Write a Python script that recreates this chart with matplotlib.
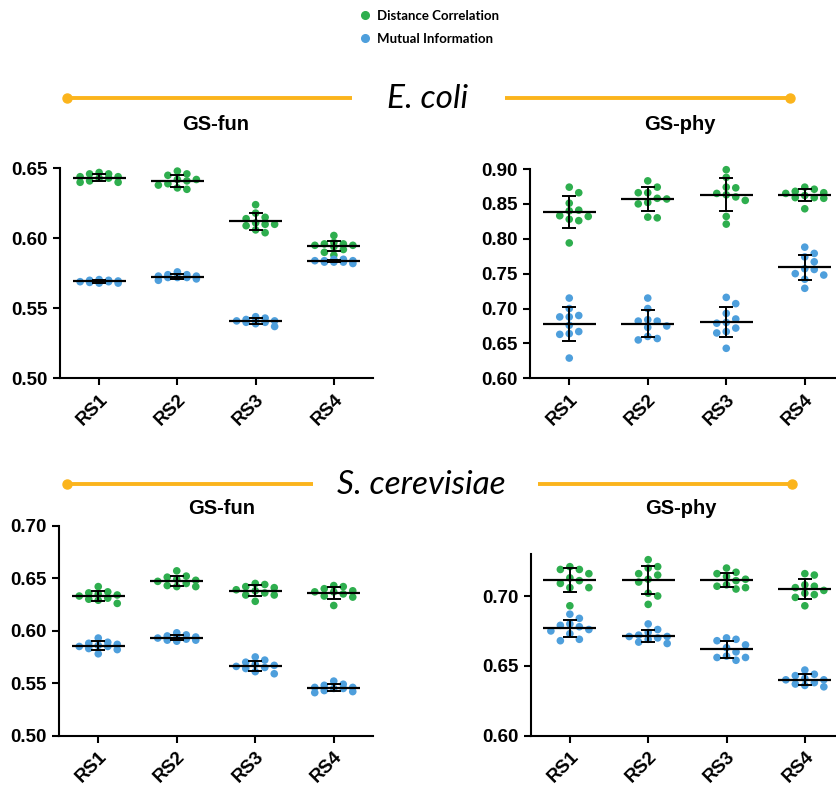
import numpy as np
import matplotlib
matplotlib.use("Agg")
import matplotlib.pyplot as plt

#====== DATA ======
categories = ["RS1", "RS2", "RS3", "RS4"]
series_names = ["Distance Correlation", "Mutual Information"]
species_names = ["E. coli", "S. cerevisiae"]
panel_titles = ["GS-fun", "GS-phy"]

# E. coli, GS-fun
ecoli_fun_dc = [
    [0.647, 0.646, 0.646, 0.644, 0.643, 0.643, 0.641, 0.640, 0.640, 0.644],
    [0.648, 0.646, 0.645, 0.642, 0.642, 0.641, 0.639, 0.638, 0.636, 0.635],
    [0.624, 0.618, 0.615, 0.614, 0.611, 0.610, 0.610, 0.609, 0.606, 0.604],
    [0.602, 0.597, 0.596, 0.596, 0.595, 0.595, 0.594, 0.592, 0.590, 0.588],
]
ecoli_fun_mi = [
    [0.570, 0.5705, 0.569, 0.569, 0.568, 0.5685, 0.570, 0.569, 0.568, 0.5695],
    [0.576, 0.574, 0.574, 0.573, 0.573, 0.572, 0.572, 0.572, 0.571, 0.570],
    [0.544, 0.543, 0.542, 0.541, 0.541, 0.541, 0.540, 0.540, 0.539, 0.537],
    [0.585, 0.585, 0.584, 0.584, 0.584, 0.584, 0.583, 0.583, 0.583, 0.582],
]
# E. coli, GS-phy
ecoli_phy_dc = [
    [0.874, 0.866, 0.851, 0.841, 0.840, 0.833, 0.832, 0.828, 0.826, 0.794],
    [0.883, 0.874, 0.866, 0.866, 0.858, 0.857, 0.852, 0.850, 0.831, 0.830],
    [0.899, 0.888, 0.874, 0.873, 0.865, 0.863, 0.860, 0.855, 0.832, 0.821],
    [0.874, 0.871, 0.868, 0.866, 0.865, 0.862, 0.859, 0.859, 0.858, 0.843],
]
ecoli_phy_mi = [
    [0.715, 0.700, 0.690, 0.688, 0.688, 0.676, 0.667, 0.664, 0.663, 0.629],
    [0.715, 0.700, 0.684, 0.682, 0.682, 0.675, 0.673, 0.660, 0.657, 0.655],
    [0.716, 0.707, 0.693, 0.685, 0.680, 0.679, 0.672, 0.667, 0.665, 0.643],
    [0.788, 0.779, 0.774, 0.767, 0.757, 0.756, 0.750, 0.748, 0.742, 0.729],
]
# S. cerevisiae, GS-fun
scer_fun_dc = [
    [0.642, 0.637, 0.636, 0.635, 0.634, 0.633, 0.631, 0.630, 0.629, 0.626],
    [0.657, 0.652, 0.651, 0.649, 0.648, 0.647, 0.645, 0.643, 0.642, 0.642],
    [0.645, 0.644, 0.642, 0.641, 0.639, 0.638, 0.636, 0.634, 0.634, 0.628],
    [0.643, 0.642, 0.640, 0.638, 0.637, 0.637, 0.635, 0.633, 0.632, 0.624],
]
scer_fun_mi = [
    [0.593, 0.589, 0.588, 0.587, 0.586, 0.585, 0.585, 0.583, 0.582, 0.578],
    [0.598, 0.596, 0.595, 0.594, 0.593, 0.593, 0.592, 0.591, 0.591, 0.590],
    [0.575, 0.572, 0.570, 0.568, 0.567, 0.566, 0.565, 0.564, 0.561, 0.559],
    [0.552, 0.549, 0.548, 0.546, 0.546, 0.545, 0.545, 0.543, 0.542, 0.541],
]
# S. cerevisiae, GS-phy
scer_phy_dc = [
    [0.721, 0.719, 0.719, 0.716, 0.713, 0.711, 0.709, 0.706, 0.706, 0.693],
    [0.726, 0.721, 0.720, 0.716, 0.715, 0.712, 0.710, 0.702, 0.700, 0.694],
    [0.720, 0.717, 0.716, 0.714, 0.712, 0.711, 0.708, 0.707, 0.706, 0.705],
    [0.716, 0.715, 0.708, 0.707, 0.706, 0.704, 0.702, 0.701, 0.699, 0.693],
]
scer_phy_mi = [
    [0.687, 0.684, 0.680, 0.679, 0.678, 0.676, 0.675, 0.673, 0.669, 0.668],
    [0.680, 0.676, 0.674, 0.672, 0.671, 0.671, 0.670, 0.669, 0.667, 0.666],
    [0.670, 0.669, 0.668, 0.665, 0.663, 0.660, 0.657, 0.656, 0.656, 0.654],
    [0.647, 0.644, 0.643, 0.641, 0.640, 0.640, 0.638, 0.637, 0.636, 0.635],
]

ecoli_fun_ticks = [0.50, 0.55, 0.60, 0.65]
ecoli_phy_ticks = [0.60, 0.65, 0.70, 0.75, 0.80, 0.85, 0.90]
scer_fun_ticks = [0.50, 0.55, 0.60, 0.65, 0.70]
scer_phy_ticks = [0.60, 0.65, 0.70]
#==================

GREEN = "#2eae4e"
BLUE = "#4e9fdc"
ORANGE = "#fbb41c"

plt.rcParams["font.family"] = ["Liberation Sans", "DejaVu Sans"]
plt.rcParams["font.weight"] = "bold"

W, H = 836, 785
fig = plt.figure(figsize=(W / 100, H / 100), dpi=100)


def px_box(x0, y0, x1, y1):
    """pixel box (top-left origin) -> figure fraction rect"""
    return [x0 / W, 1 - y1 / H, (x1 - x0) / W, (y1 - y0) / H]


def swarm_x(ax, xc, values, step_px=9.5, min_dy=7.0, nslots=2):
    """Prism-like dot arrangement: put each point in the first free column slot."""
    values = np.asarray(values, dtype=float)
    disp = ax.transData.transform(np.column_stack([np.full(len(values), xc), values]))
    ys = disp[:, 1]
    unit_px = ax.transData.transform((1, 0))[0] - ax.transData.transform((0, 0))[0]
    slots = [0]
    for k in range(1, nslots + 1):
        slots += [k, -k]
    placed = {s: [] for s in slots}
    xs = np.zeros(len(values))
    for i in np.argsort(ys)[::-1]:
        best, best_gap = None, -1
        for s in slots:
            gap = min([abs(ys[i] - py) for py in placed[s]], default=np.inf)
            if gap >= min_dy:
                best = s
                break
            if gap > best_gap:
                best, best_gap = s, gap
        placed[best].append(ys[i])
        xs[i] = xc + best * step_px / unit_px
    return xs


def plot_panel(box, title, title_xy, dc, mi, yticks, ylim):
    ax = fig.add_axes(px_box(*box))
    ax.set_xlim(0.5, 4.5)
    ax.set_ylim(*ylim)
    for groups, color in [(dc, GREEN), (mi, BLUE)]:
        for i, vals in enumerate(groups):
            xc = i + 1
            xs = swarm_x(ax, xc, vals)
            ax.scatter(xs, vals, s=30, color=color, edgecolors="none", zorder=2, clip_on=False)
            m, sd = np.mean(vals), np.std(vals, ddof=1)
            ax.hlines(m, xc - 0.34, xc + 0.34, color="black", lw=1.6, zorder=3)
            ax.errorbar(xc, m, yerr=sd, color="black", lw=1.4, capsize=5, capthick=1.4, zorder=3)
    ax.set_yticks(yticks)
    ax.set_yticklabels([f"{t:.2f}" for t in yticks])
    ax.set_xticks(range(1, len(categories) + 1))
    ax.set_xticklabels(categories, rotation=45, ha="right", va="top", rotation_mode="anchor")
    ax.tick_params(direction="out", length=5, width=1.5, labelsize=13.5, pad=4)
    ax.tick_params(axis="x", pad=4)
    for side in ["top", "right"]:
        ax.spines[side].set_visible(False)
    for side in ["left", "bottom"]:
        ax.spines[side].set_linewidth(1.5)
    ax.spines["left"].set_bounds(ylim[0], ylim[1])
    fig.text(title_xy[0] / W, 1 - title_xy[1] / H, title, ha="center", va="center",
             fontsize=14.5, fontweight="bold")
    return ax


# overlay in pixel coordinates for headers and legend
ov = fig.add_axes([0, 0, 1, 1])
ov.set_xlim(0, W)
ov.set_ylim(H, 0)
ov.axis("off")


def header(name, xc, y, left_seg, right_seg):
    ov.plot(left_seg, [y, y], color=ORANGE, lw=2.8, solid_capstyle="butt")
    ov.plot(right_seg, [y, y], color=ORANGE, lw=2.8, solid_capstyle="butt")
    ov.plot([left_seg[0], right_seg[1]], [y, y], "o", color=ORANGE, ms=6.5, lw=0)
    ov.text(xc, y + 1, name, ha="center", va="center", fontsize=24,
            fontstyle="italic", fontweight="normal", family=["Lato", "DejaVu Sans"])


header(species_names[0], 428, 98, [67, 352], [505, 790])
header(species_names[1], 421, 484, [67, 313], [538, 792])

for (y, color, name) in [(15, GREEN, series_names[0]), (38, BLUE, series_names[1])]:
    ov.plot([365], [y], "o", color=color, ms=5.5)
    ov.text(377, y + 1, name, ha="left", va="center", fontsize=9.5,
            fontweight="bold", family=["Lato", "DejaVu Sans"])

plot_panel((60, 168.3, 373, 378.3), panel_titles[0], (216, 125),
           ecoli_fun_dc, ecoli_fun_mi, ecoli_fun_ticks, (0.50, 0.65))
plot_panel((530, 169, 844, 378.3), panel_titles[1], (680, 125),
           ecoli_phy_dc, ecoli_phy_mi, ecoli_phy_ticks, (0.60, 0.90))
plot_panel((59, 525.7, 373, 735.7), panel_titles[0], (222, 508),
           scer_fun_dc, scer_fun_mi, scer_fun_ticks, (0.50, 0.70))
plot_panel((530.7, 554.1, 844, 735.7), panel_titles[1], (681, 508),
           scer_phy_dc, scer_phy_mi, scer_phy_ticks, (0.60, 0.73))

fig.savefig("out.png", dpi=100)
